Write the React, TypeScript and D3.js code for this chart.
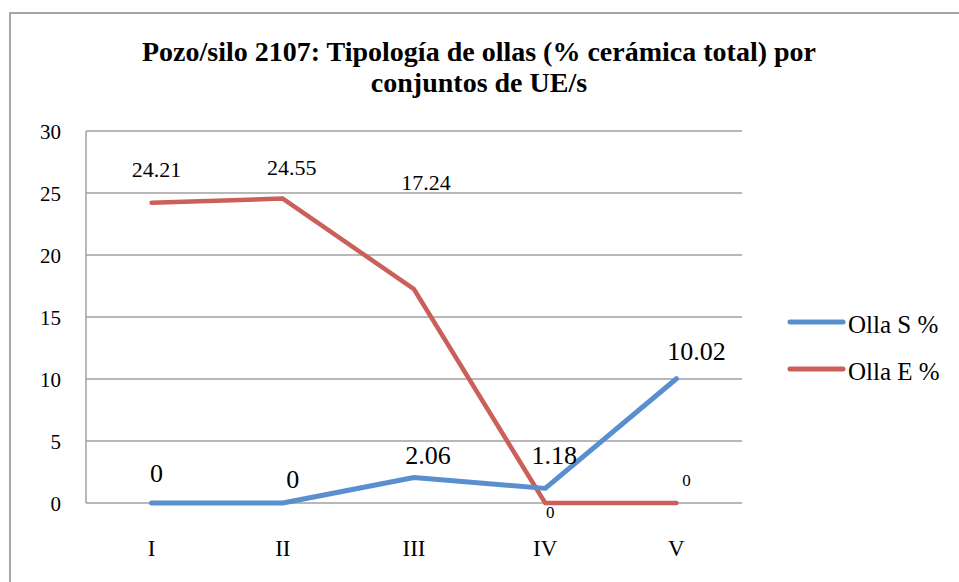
import React from "react";
import * as d3 from "d3";

const categories = ["I", "II", "III", "IV", "V"];
const ollaS = [0, 0, 2.06, 1.18, 10.02];
const ollaE = [24.21, 24.55, 17.24, 0, 0];
const yTicks = [0, 5, 10, 15, 20, 25, 30];
const seriesNames = ["Olla S %", "Olla E %"];

const W = 959;
const H = 582;
const margin = { left: 86, right: 217, top: 131, bottom: 79 };
const FONT = "'Liberation Serif', serif";
const BLUE = "#5a8fcf";
const RED = "#cb5f5a";

// label offsets (dx, dy) from each point, as placed in the original chart
const sLabelOff: [number, number][] = [[5, -21], [10, -15], [14, -13], [9, -24], [20, -19]];
const eLabelOff: [number, number][] = [[5, -26], [9, -24], [12, -99], [5, 15], [10, -17]];

const App = () => {
  const x = d3
    .scaleBand()
    .domain(categories)
    .range([margin.left, W - margin.right]);
  const y = d3
    .scaleLinear()
    .domain([0, 30])
    .range([H - margin.bottom, margin.top]);
  const cx = (c: string) => (x(c) as number) + x.bandwidth() / 2;

  const line = d3
    .line<number>()
    .x((_, i) => cx(categories[i]))
    .y((d) => y(d));

  return (
    <svg
      width={W}
      height={H}
      style={{ position: "absolute", left: 0, top: 0, background: "#fff" }}
    >
      <rect x={10} y={13} width={W + 10} height={H} fill="none" stroke="#a6a6a6" strokeWidth={2} />
      <text x={479} y={61} textAnchor="middle" fontFamily={FONT} fontWeight="bold" fontSize={28}>
        Pozo/silo 2107: Tipología de ollas (% cerámica total) por
      </text>
      <text x={479} y={92} textAnchor="middle" fontFamily={FONT} fontWeight="bold" fontSize={28}>
        conjuntos de UE/s
      </text>

      {yTicks.map((t) => (
        <g key={t}>
          <line
            x1={margin.left}
            x2={W - margin.right}
            y1={y(t)}
            y2={y(t)}
            stroke="#a0a0a0"
            strokeWidth={1.5}
          />
          <text
            x={61}
            y={y(t) + 8}
            textAnchor="end"
            fontFamily={FONT}
            fontSize={21}
          >
            {t}
          </text>
        </g>
      ))}
      <line
        x1={margin.left}
        x2={margin.left}
        y1={y(30)}
        y2={y(0)}
        stroke="#a0a0a0"
        strokeWidth={1.5}
      />

      {categories.map((c) => (
        <text key={c} x={cx(c)} y={556} textAnchor="middle" fontFamily={FONT} fontSize={23}>
          {c}
        </text>
      ))}

      <path d={line(ollaE) || ""} fill="none" stroke={RED} strokeWidth={4.5} strokeLinecap="round" strokeLinejoin="round" />
      <path d={line(ollaS) || ""} fill="none" stroke={BLUE} strokeWidth={5} strokeLinecap="round" strokeLinejoin="round" />

      {ollaE.map((v, i) => (
        <text
          key={"e" + i}
          x={cx(categories[i]) + eLabelOff[i][0]}
          y={y(v) + eLabelOff[i][1]}
          textAnchor="middle"
          fontFamily={FONT}
          fontSize={v === 0 ? 17 : 22}
        >
          {String(v)}
        </text>
      ))}
      {ollaS.map((v, i) => (
        <text
          key={"s" + i}
          x={cx(categories[i]) + sLabelOff[i][0]}
          y={y(v) + sLabelOff[i][1]}
          textAnchor="middle"
          fontFamily={FONT}
          fontSize={26}
        >
          {String(v)}
        </text>
      ))}

      {seriesNames.map((n, i) => (
        <g key={n} transform={`translate(790, ${322 + i * 47})`}>
          <line x1={0} x2={53} y1={0} y2={0} stroke={i === 0 ? BLUE : RED} strokeWidth={5} strokeLinecap="round" />
          <text x={58} y={11} fontFamily={FONT} fontSize={25}>
            {n}
          </text>
        </g>
      ))}
    </svg>
  );
};

export default App;
